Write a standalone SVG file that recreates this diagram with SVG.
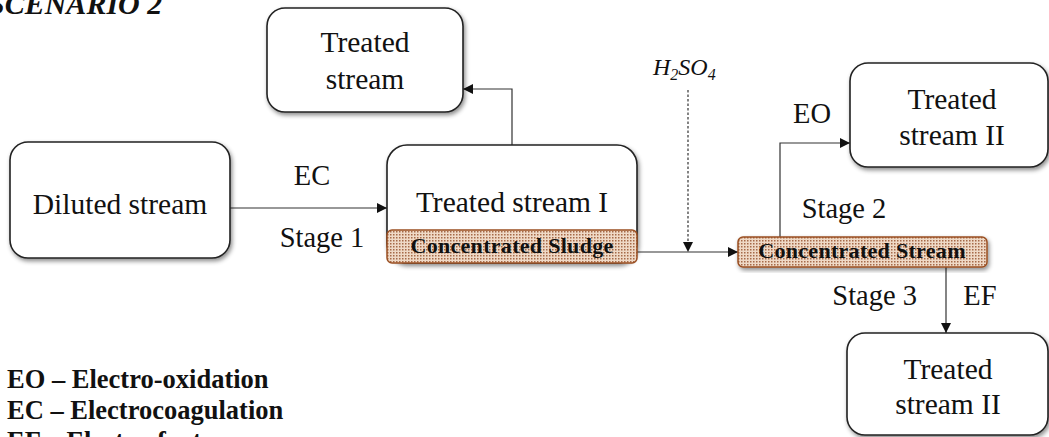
<svg xmlns="http://www.w3.org/2000/svg" width="1049" height="437" viewBox="0 0 1049 437">
  <style>
    .box { fill: #ffffff; stroke: #222222; stroke-width: 1.6; filter: url(#shadow); }
    .t { font-family: "Liberation Serif", "Times New Roman", serif; font-size: 29.5px; fill: #111111; }
    .lbl { font-family: "Liberation Serif", "Times New Roman", serif; font-size: 28.5px; fill: #111111; }
    .band { fill: url(#dots); stroke: #9a4f22; stroke-width: 1.5; }
    .bt { font-family: "Liberation Serif", "Times New Roman", serif; font-size: 22px; font-weight: bold; letter-spacing: 0.3px; fill: #111111; }
    .leg { font-family: "Liberation Serif", "Times New Roman", serif; font-size: 26.5px; font-weight: bold; fill: #111111; }
    .ln { fill: none; stroke: #333333; stroke-width: 1.2; }
  </style>
  <defs>
    <filter id="shadow" x="-10%" y="-10%" width="125%" height="130%">
      <feDropShadow dx="1.5" dy="2.5" stdDeviation="2" flood-color="#000000" flood-opacity="0.45"/>
    </filter>
    <pattern id="dots" width="3" height="3" patternUnits="userSpaceOnUse">
      <rect width="3" height="3" fill="#efd9c6"/>
      <rect x="0" y="0" width="1.5" height="1.5" fill="#a66a48"/>
    </pattern>
    <marker id="arr" viewBox="0 0 10 10" refX="10" refY="5" markerWidth="10" markerHeight="10" markerUnits="userSpaceOnUse" orient="auto">
      <path d="M0,0 L10,5 L0,10 z" fill="#111111"/>
    </marker>
  </defs>

  <rect width="1049" height="437" fill="#ffffff"/>

  <!-- heading -->
  <text x="-12" y="14" font-family="Liberation Serif, serif" font-size="30" font-weight="bold" font-style="italic" fill="#111111">SCENARIO 2</text>

  <!-- connectors -->
  <g id="connectors">
    <path class="ln" d="M230,208 L387,208" marker-end="url(#arr)"/>
    <path class="ln" d="M512,145 L512,89 L463,89" marker-end="url(#arr)"/>
    <path class="ln" d="M637,252 L738,252" marker-end="url(#arr)"/>
    <path class="ln" d="M688,90 L688,252" stroke-dasharray="2.5,2" marker-end="url(#arr)"/>
    <path class="ln" d="M780,237 L780,143 L850,143" marker-end="url(#arr)"/>
    <path class="ln" d="M946,267 L946,333" marker-end="url(#arr)"/>
    <text class="lbl" x="312" y="185" text-anchor="middle">EC</text>
    <text class="lbl" x="322" y="247" text-anchor="middle">Stage 1</text>
    <text x="653" y="75" font-family="Liberation Serif, serif" font-size="24" font-style="italic" fill="#111111">H<tspan font-size="16" dy="5">2</tspan><tspan dy="-5">SO</tspan><tspan font-size="16" dy="5">4</tspan></text>
    <text class="lbl" x="812" y="123" text-anchor="middle">EO</text>
    <text class="lbl" x="844" y="218" text-anchor="middle">Stage 2</text>
    <text class="lbl" x="917" y="305" text-anchor="end">Stage 3</text>
    <text class="lbl" x="980" y="305" text-anchor="middle">EF</text>
  </g>

  <g id="diluted">
    <rect class="box" x="10" y="142" width="220" height="116" rx="18"/>
    <text class="t" x="120" y="214" text-anchor="middle">Diluted stream</text>
  </g>

  <g id="treated-top">
    <rect class="box" x="267" y="8" width="196" height="104" rx="18"/>
    <text class="t" x="365" y="52" text-anchor="middle">Treated</text>
    <text class="t" x="365" y="89" text-anchor="middle">stream</text>
  </g>

  <g id="treated-1">
    <rect class="box" x="387" y="145" width="250" height="118" rx="20"/>
    <text class="t" x="512" y="212" text-anchor="middle">Treated stream I</text>
    <rect class="band" x="387" y="230" width="250" height="33" rx="5"/>
    <text class="bt" x="512" y="253" text-anchor="middle">Concentrated Sludge</text>
  </g>

  <g id="concentrated">
    <rect class="band" x="738" y="237" width="249" height="30" rx="5" filter="url(#shadow)"/>
    <text class="bt" x="862" y="258" text-anchor="middle">Concentrated Stream</text>
  </g>

  <g id="treated-2a">
    <rect class="box" x="850" y="63" width="198" height="104" rx="18"/>
    <text class="t" x="952" y="109" text-anchor="middle">Treated</text>
    <text class="t" x="952" y="145" text-anchor="middle">stream II</text>
  </g>

  <g id="treated-2b">
    <rect class="box" x="847" y="333" width="201" height="102" rx="18"/>
    <text class="t" x="948" y="379" text-anchor="middle">Treated</text>
    <text class="t" x="948" y="414" text-anchor="middle">stream II</text>
  </g>

  <g id="legend">
    <text class="leg" x="7" y="388">EO – Electro-oxidation</text>
    <text class="leg" x="7" y="419">EC – Electrocoagulation</text>
    <text class="leg" x="7" y="450">EF – Electro-fenton</text>
  </g>
</svg>
